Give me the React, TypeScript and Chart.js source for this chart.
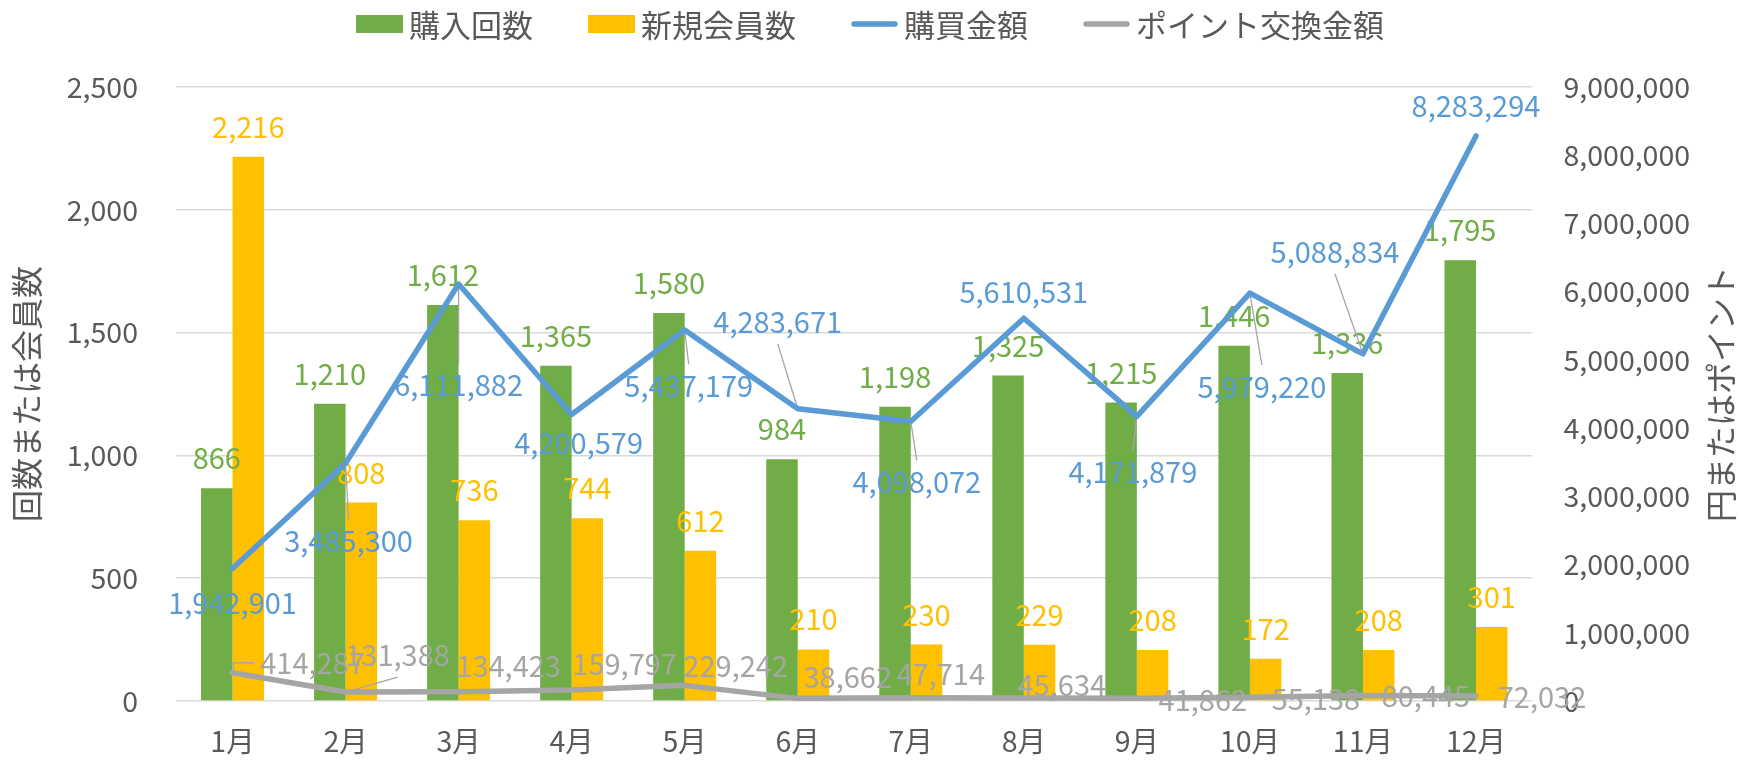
import React, { useEffect, useRef } from "react";
import { Chart, registerables } from "chart.js";

Chart.register(...registerables);

// ---------- data ----------
const months = ["1月", "2月", "3月", "4月", "5月", "6月", "7月", "8月", "9月", "10月", "11月", "12月"];
const purchaseCounts = [866, 1210, 1612, 1365, 1580, 984, 1198, 1325, 1215, 1446, 1336, 1795];
const newMembers = [2216, 808, 736, 744, 612, 210, 230, 229, 208, 172, 208, 301];
const purchaseAmounts = [1942901, 3485300, 6111882, 4200579, 5437179, 4283671, 4098072, 5610531, 4171879, 5979220, 5088834, 8283294];
const pointAmounts = [414287, 131388, 134423, 159797, 229242, 38662, 47714, 45634, 41862, 55138, 80445, 72032];
const seriesNames = ["購入回数", "新規会員数", "購買金額", "ポイント交換金額"];
const leftAxisTitle = "回数または会員数";
const rightAxisTitle = "円またはポイント";
const leftAxisMax = 2500;
const leftAxisStep = 500;
const rightAxisMax = 9000000;
const rightAxisStep = 1000000;

// ---------- label placement (styles: offset of label centre from its point, leader type) ----------
const amountLabelOffsets: [number, number][] = [
  [0, 35], [3, 78], [0, 101], [7, 29], [4, 56], [-20, -87],
  [6, 61], [0, -26], [-4, 56], [12, 94], [-28, -102], [0, -30],
];
const amountLeaders = ["none", "line", "line", "none", "line", "line", "line", "none", "line", "line", "line", "none"];
const pointLabelOffsets: [number, number][] = [
  [80, -10], [52, -37], [50, -26], [53, -26], [51, -19], [50, -21],
  [30, -24], [38, -13], [66, 2], [66, 2], [63, 0], [66, 1],
];
const pointLeaders = ["bracket", "line", "none", "none", "none", "none", "none", "none", "none", "none", "none", "none"];

const GREEN = "#70AD47";
const YELLOW = "#FFC000";
const BLUE = "#5B9BD5";
const GRAY = "#A5A5A5";
const TEXT = "#595959";
const FONT = '"Noto Sans CJK JP", "Noto Sans", sans-serif';

const fmt = (v: number) => Number(v).toLocaleString("en-US");

function drawLabels(chart: any) {
  const ctx = chart.ctx as CanvasRenderingContext2D;
  ctx.save();
  ctx.font = `29px ${FONT}`;
  // bar labels
  [0, 1].forEach((di) => {
    const meta = chart.getDatasetMeta(di);
    const ds = chart.data.datasets[di];
    ctx.fillStyle = ds.backgroundColor;
    ctx.textAlign = "center";
    ctx.textBaseline = "alphabetic";
    meta.data.forEach((el: any, i: number) => {
      ctx.fillText(fmt(ds.data[i]), el.x, el.y - 19);
    });
  });
  // line labels
  const lineSets: [number, [number, number][], string[]][] = [
    [2, amountLabelOffsets, amountLeaders],
    [3, pointLabelOffsets, pointLeaders],
  ];
  lineSets.forEach(([di, offs, leaders]) => {
    const meta = chart.getDatasetMeta(di);
    const ds = chart.data.datasets[di];
    meta.data.forEach((el: any, i: number) => {
      const text = fmt(ds.data[i]);
      const [dx, dy] = offs[i];
      const cx = el.x + dx;
      const cy = el.y + dy;
      const tw = ctx.measureText(text).width;
      ctx.strokeStyle = "#A6A6A6";
      ctx.lineWidth = 1.3;
      if (leaders[i] === "line") {
        const h = 20;
        const ey = dy > 0 ? cy - h / 2 - 12 : cy + h / 2 + 12;
        ctx.beginPath();
        ctx.moveTo(el.x, el.y);
        ctx.lineTo(cx, ey);
        ctx.stroke();
      } else if (leaders[i] === "bracket") {
        const lx = cx - tw / 2 - 6;
        ctx.beginPath();
        ctx.moveTo(el.x + 1, el.y - 2);
        ctx.lineTo(el.x + 1, cy);
        ctx.lineTo(Math.max(lx, el.x + 8), cy);
        ctx.stroke();
      }
      ctx.fillStyle = ds.borderColor;
      ctx.textAlign = "center";
      ctx.textBaseline = "middle";
      ctx.fillText(text, cx, cy);
    });
  });
  ctx.restore();
}

const labelPlugin = {
  id: "customLabels",
  beforeDatasetsDraw(chart: any) {
    chart.$labelsDone = false;
  },
  beforeDatasetDraw(chart: any, args: any) {
    if (chart.data.datasets[args.index].type === "line" && !chart.$labelsDone) {
      chart.$labelsDone = true;
      drawLabels(chart);
    }
  },
};

const decorPlugin = {
  id: "customDecor",
  afterDraw(chart: any) {
    const ctx = chart.ctx as CanvasRenderingContext2D;
    const area = chart.chartArea;
    ctx.save();
    // legend
    ctx.font = `31px ${FONT}`;
    const boxW = 47, boxH = 18, gap = 6, itemGap = 55;
    const items = chart.data.datasets.map((ds: any) => ({
      text: ds.label,
      color: ds.type === "line" ? ds.borderColor : ds.backgroundColor,
      line: ds.type === "line",
    }));
    const widths = items.map((it: any) => boxW + gap + ctx.measureText(it.text).width);
    const total = widths.reduce((a: number, b: number) => a + b, 0) + itemGap * (items.length - 1);
    let x = (chart.width - total) / 2;
    const cy = 24;
    items.forEach((it: any, i: number) => {
      if (it.line) {
        ctx.strokeStyle = it.color;
        ctx.lineWidth = 5.5;
        ctx.lineCap = "round";
        ctx.beginPath();
        ctx.moveTo(x + 3, cy);
        ctx.lineTo(x + boxW - 3, cy);
        ctx.stroke();
      } else {
        ctx.fillStyle = it.color;
        ctx.fillRect(x, cy - boxH / 2, boxW, boxH);
      }
      ctx.fillStyle = TEXT;
      ctx.textAlign = "left";
      ctx.textBaseline = "middle";
      ctx.fillText(it.text, x + boxW + gap, cy + 1);
      x += widths[i] + itemGap;
    });
    // axis titles (both read bottom-to-top)
    ctx.font = `32px ${FONT}`;
    ctx.fillStyle = TEXT;
    ctx.textAlign = "center";
    ctx.textBaseline = "middle";
    const midY = (area.top + area.bottom) / 2;
    ctx.save();
    ctx.translate(27, midY);
    ctx.rotate(-Math.PI / 2);
    ctx.fillText(leftAxisTitle, 0, 0);
    ctx.restore();
    ctx.save();
    ctx.translate(chart.width - 19, midY);
    ctx.rotate(-Math.PI / 2);
    ctx.fillText(rightAxisTitle, 0, 0);
    ctx.restore();
    ctx.restore();
  },
};

export default function App() {
  const ref = useRef<HTMLCanvasElement | null>(null);
  useEffect(() => {
    if (!ref.current) return;
    const tickFont = { size: 28.5, family: FONT };
    const chart = new Chart(ref.current, {
      type: "bar",
      data: {
        labels: months,
        datasets: [
          { type: "bar", label: seriesNames[0], data: purchaseCounts, backgroundColor: GREEN, yAxisID: "y", order: 1, categoryPercentage: 0.557, barPercentage: 1.0 } as any,
          { type: "bar", label: seriesNames[1], data: newMembers, backgroundColor: YELLOW, yAxisID: "y", order: 1, categoryPercentage: 0.557, barPercentage: 1.0 } as any,
          { type: "line", label: seriesNames[2], data: purchaseAmounts, borderColor: BLUE, backgroundColor: BLUE, borderWidth: 5.5, pointRadius: 0, tension: 0, yAxisID: "y1", order: 0, borderCapStyle: "round", borderJoinStyle: "round" } as any,
          { type: "line", label: seriesNames[3], data: pointAmounts, borderColor: GRAY, backgroundColor: GRAY, borderWidth: 5.5, pointRadius: 0, tension: 0, yAxisID: "y1", order: 0, borderCapStyle: "round", borderJoinStyle: "round" } as any,
        ],
      },
      options: {
        responsive: false,
        animation: false,
        devicePixelRatio: 1,
        layout: { padding: { top: 87, left: 0, right: 0, bottom: 0 } },
        plugins: { legend: { display: false }, tooltip: { enabled: false } },
        scales: {
          x: {
            grid: { display: false, drawTicks: false },
            border: { display: false },
            ticks: { font: tickFont, color: TEXT, padding: 23, maxRotation: 0, autoSkip: false },
            afterFit: (s: any) => { s.height = 64; },
          },
          y: {
            position: "left",
            min: 0,
            max: leftAxisMax,
            grid: { color: "#D9D9D9", lineWidth: 1.5, drawTicks: false },
            border: { display: false },
            ticks: { stepSize: leftAxisStep, font: tickFont, color: TEXT, padding: 38, callback: (v: any) => fmt(v) },
            afterFit: (s: any) => { s.width = 176; },
          },
          y1: {
            position: "right",
            min: 0,
            max: rightAxisMax,
            grid: { display: false, drawTicks: false },
            border: { display: false },
            ticks: { stepSize: rightAxisStep, font: tickFont, color: TEXT, padding: 31, callback: (v: any) => fmt(v) },
            afterFit: (s: any) => { s.width = 207.5; },
          },
        },
      } as any,
      plugins: [labelPlugin, decorPlugin],
    });
    return () => chart.destroy();
  }, []);
  return (
    <div style={{ position: "fixed", left: 0, top: 0, width: 1740, height: 765, background: "#fff" }}>
      <canvas ref={ref} width={1740} height={765} />
    </div>
  );
}
